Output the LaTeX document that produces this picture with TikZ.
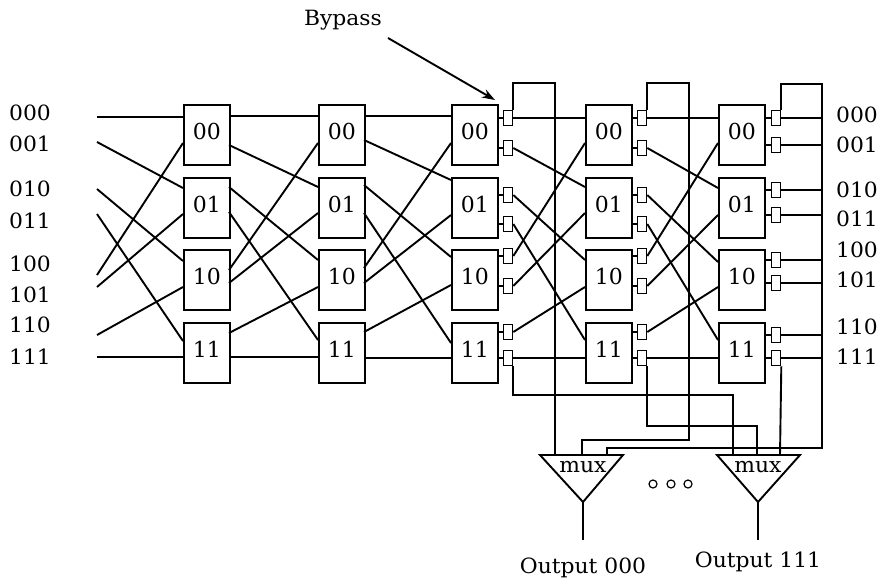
\documentclass[tikz,border=0pt]{standalone}
\usepackage{fontspec}
\setmainfont[FakeStretch=1.04]{DejaVu Serif}
\newfontfamily\boxfont{DejaVu Serif}
\usetikzlibrary{arrows.meta}
\newcommand\pinrow[6]{\coordinate (#1#2-#3-0) at (#4,#5); \coordinate (#1#2-#3-1) at (#4,#6);}
\newcommand\regrow[5]{\node[reg] (g#1-#2-0) at (#3,#4) {}; \node[reg] (g#1-#2-1) at (#3,#5) {};}
\begin{document}
\begin{tikzpicture}[x=1pt,y=-1pt,
  wire/.style={line width=1.9pt},
  box/.style={draw,line width=1.9pt,fill=white,minimum width=46pt,minimum height=60pt,anchor=north west,inner sep=0pt,text height=16pt,text depth=6pt,font=\boxfont\fontsize{22}{24}\selectfont},
  reg/.style={draw,line width=1.6pt,fill=white,minimum width=9pt,minimum height=15pt,inner sep=0pt},
  lbl/.style={font=\fontsize{21}{24}\selectfont,inner sep=0pt}]
\useasboundingbox (0,0) rectangle (880,582);

% boxes
\foreach \s/\x in {1/183,2/318,3/451,4/585,5/718}
  \foreach \r/\t/\l in {0/104/00,1/177/01,2/249/10,3/322/11}
    \node[box] (b\s-\r) at (\x,\t) {\l};

% registers
\regrow{3}{0}{508}{118}{148} \regrow{3}{1}{508}{195}{224} \regrow{3}{2}{508}{256}{286} \regrow{3}{3}{508}{332}{358}
\regrow{4}{0}{642}{118}{148} \regrow{4}{1}{642}{195}{224} \regrow{4}{2}{642}{256}{286} \regrow{4}{3}{642}{332}{358}
\regrow{5}{0}{776}{118}{145} \regrow{5}{1}{776}{190}{215} \regrow{5}{2}{776}{260}{283} \regrow{5}{3}{776}{335}{358}

% input pins
\pinrow{i}{1}{0}{183}{117}{143} \pinrow{i}{1}{1}{183}{188}{214} \pinrow{i}{1}{2}{183}{261}{287} \pinrow{i}{1}{3}{183}{341}{357}
\pinrow{i}{2}{0}{318}{116}{143} \pinrow{i}{2}{1}{318}{187}{213} \pinrow{i}{2}{2}{318}{260}{287} \pinrow{i}{2}{3}{318}{340}{357}
\pinrow{i}{3}{0}{451}{116}{143} \pinrow{i}{3}{1}{451}{180}{215} \pinrow{i}{3}{2}{451}{257}{285} \pinrow{i}{3}{3}{451}{343}{358}
\pinrow{i}{4}{0}{585}{118}{143} \pinrow{i}{4}{1}{585}{187}{213} \pinrow{i}{4}{2}{585}{260}{287} \pinrow{i}{4}{3}{585}{340}{358}
\pinrow{i}{5}{0}{718}{118}{143} \pinrow{i}{5}{1}{718}{188}{215} \pinrow{i}{5}{2}{718}{262}{287} \pinrow{i}{5}{3}{718}{340}{358}
% output pins
\pinrow{o}{1}{0}{229}{116}{145} \pinrow{o}{1}{1}{229}{187}{212} \pinrow{o}{1}{2}{229}{270}{283} \pinrow{o}{1}{3}{229}{333}{357}
\pinrow{o}{2}{0}{364}{116}{140} \pinrow{o}{2}{1}{364}{185}{213} \pinrow{o}{2}{2}{364}{268}{283} \pinrow{o}{2}{3}{364}{332}{358}

% labels
\foreach \n/\t/\y in {0/000/113,1/001/144,2/010/189,3/011/221,4/100/264,5/101/295,6/110/325,7/111/357}
  \node[lbl,anchor=west] (L\n) at (9,\y) {\t};
\foreach \n/\t/\y in {0/000/115,1/001/145,2/010/190,3/011/219,4/100/250,5/101/280,6/110/327,7/111/357}
  \node[lbl,anchor=west] (R\n) at (836,\y) {\t};

% inputs
\foreach \n/\y in {0/117,1/142,2/189,3/214,4/275,5/287,6/335,7/357}
  \coordinate (s\n) at (97,\y);
\foreach \n in {0,...,7}{
  \pgfmathtruncatemacro\a{int(\n/4)}
  \pgfmathtruncatemacro\bc{mod(\n,4)}
  \draw[wire] (s\n) -- (i1-\bc-\a);
}

% stages 1->2, 2->3
\foreach \s/\t in {1/2,2/3}
  \foreach \r in {0,...,3}
    \foreach \k in {0,1}{
      \pgfmathtruncatemacro\d{mod(2*\r+\k,4)}
      \pgfmathtruncatemacro\p{int(\r/2)}
      \draw[wire] (o\s-\r-\k) -- (i\t-\d-\p);
    }

% stubs to registers
\foreach \s in {3,4,5}
  \foreach \r in {0,...,3}
    \foreach \k in {0,1}
      \draw[wire] (g\s-\r-\k.west) -- (g\s-\r-\k.west -| b\s-\r.east);

% stages 3->4, 4->5
\foreach \s/\t in {3/4,4/5}
  \foreach \r in {0,...,3}
    \foreach \k in {0,1}{
      \pgfmathtruncatemacro\d{mod(2*\r+\k,4)}
      \pgfmathtruncatemacro\p{int(\r/2)}
      \draw[wire] (g\s-\r-\k.east) -- (i\t-\d-\p);
    }

% outputs of stage 5
\coordinate (rv) at (822,84);
\foreach \r in {0,...,3}
  \foreach \k in {0,1}
    \draw[wire] (g5-\r-\k.east) -- (g5-\r-\k.east -| rv);

% mux inputs
\coordinate (m1a) at (555,455); \coordinate (m1b) at (582,455); \coordinate (m1c) at (607,455);
\coordinate (m2a) at (733,455); \coordinate (m2b) at (757,455); \coordinate (m2c) at (780,455);
\coordinate (k1) at (555,83); \coordinate (k2) at (689,83); \coordinate (k3) at (582,440);
\coordinate (k4) at (607,448); \coordinate (k5) at (733,395); \coordinate (k6) at (757,426);

% bypass lines
\draw[wire] (g3-0-0.north east) |- (k1) -- (m1a);
\draw[wire] (g4-0-0.north east) |- (k2) |- (k3) -- (m1b);
\draw[wire] (g5-0-0.north east) |- (rv) |- (k4) -- (m1c);
\draw[wire] (g3-3-1.south east) |- (k5) -- (m2a);
\draw[wire] (g4-3-1.south east) |- (k6) -- (m2b);
\draw[wire] (g5-3-1.south east) -- (m2c);

% muxes
\draw[wire,line join=miter] (540,455) -- (623,455) -- (583,502) -- cycle;
\draw[wire,line join=miter] (717,455) -- (800,455) -- (758,502) -- cycle;
\coordinate (M1) at (583,502); \coordinate (O1) at (583,540);
\coordinate (M2) at (758,502); \coordinate (O2) at (758,540);
\node[lbl] (mx1) at (583,467) {mux};
\node[lbl] (mx2) at (758,467) {mux};
\draw[wire] (M1) -- (O1);
\draw[wire] (M2) -- (O2);
\node[lbl] (out1) at (583,568) {Output 000};
\node[lbl] (out2) at (758,562) {Output 111};

% dots
\foreach \x in {653,671,688}
  \draw[line width=1.2pt] (\x,484) circle[radius=4pt];

% bypass label
\node[lbl] (bp) at (343,20) {Bypass};
\coordinate (ba) at (388,38); \coordinate (bb) at (495,100);
\draw[wire,-{Stealth[length=13pt,width=9pt]}] (ba) -- (bb);
\end{tikzpicture}
\end{document}
